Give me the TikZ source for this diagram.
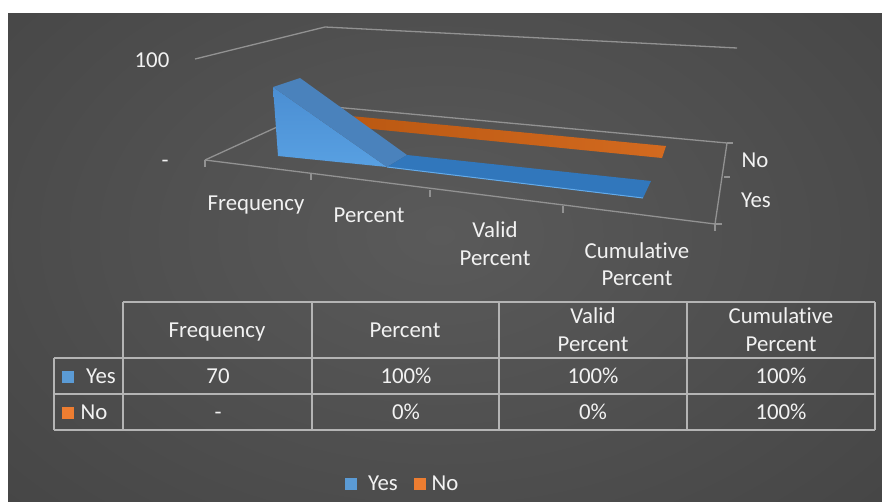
\documentclass[tikz,border=0pt]{standalone}
\usepackage{fontspec}
\setmainfont{Carlito}[Ligatures=NoCommon]
\usetikzlibrary{calc}

\definecolor{bgcenter}{HTML}{5A5A5A}
\definecolor{bgmid}{HTML}{474747}
\definecolor{bgdark}{HTML}{2C2C2C}
\definecolor{axisgray}{HTML}{929292}
\definecolor{tablegray}{HTML}{B4B4B4}
\definecolor{yesfront}{HTML}{58A0E2}
\definecolor{yesfronttop}{HTML}{4B8ED2}
\definecolor{yestop}{HTML}{4A82BC}
\definecolor{yesstrip}{HTML}{3177BC}
\definecolor{yesedge}{HTML}{63ABEB}
\definecolor{noleft}{HTML}{BA5812}
\definecolor{noright}{HTML}{D36A1F}
\definecolor{legblue}{HTML}{5B9BD5}
\definecolor{legorange}{HTML}{ED7D31}
\definecolor{labelwhite}{HTML}{F2F2F2}

\pgfdeclareradialshading{bgglow}{\pgfpoint{0bp}{0bp}}{%
  color(0bp)=(bgcenter); color(22bp)=(bgmid); color(50bp)=(bgdark)}

\tikzset{
  lbl/.style={text=labelwhite, font=\fontsize{22.8}{27}\selectfont,
    inner sep=0pt, anchor=base},
  axisline/.style={draw=axisgray, line width=1.3pt},
  tabline/.style={draw=tablegray, line width=1.4pt},
  swatch/.style={inner sep=0pt, minimum size=12pt, draw=none},
}

\begin{document}
\begin{tikzpicture}[x=1pt, y=-1pt]
  % page and chart area
  \useasboundingbox (0,0) rectangle (882,501);
  \fill[white] (0,0) rectangle (882,501);
  \begin{scope}
    \clip (8,13) rectangle (882,501);
    \fill[bgdark] (8,13) rectangle (882,501);
    \shade[shading=bgglow] (440,235) ellipse [x radius=640, y radius=430];
  \end{scope}

  % corners of the floor and walls
  \coordinate (fl) at (205,160);
  \coordinate (fr) at (715,224);
  \coordinate (bl) at (323,106);
  \coordinate (br) at (727,143);
  \coordinate (wl) at (195,59);
  \coordinate (wc) at (325,27);
  \coordinate (wr) at (737,48);

  % gridline at 100 on the side and back walls
  \draw[axisline] (wl) -- (wc) -- (wr);

  % floor outline
  \draw[axisline] (fl) -- (bl) -- (br);
  \draw[axisline] (fl) -- (fr) -- (br);

  % category ticks along the front edge
  \foreach \tx/\ty in {205/160, 311/173, 430/190, 563/206, 715/224}
    \draw[axisline] (\tx,\ty) -- (\tx,\ty+7);
  % series ticks on the depth axis
  \draw[axisline] (br) -- ++(6,0);
  \draw[axisline] (724,177) -- ++(6,0);
  \draw[axisline] (fr) -- ++(7,0);

  % "No" series: flat strip
  \shade[left color=noleft, right color=noright]
    (340,115) -- (666,146) -- (662,158) -- (352,127) -- cycle;

  % "Yes" series: front face of the slope
  \shade[top color=yesfronttop, bottom color=yesfront]
    (273,87) -- (278,156) -- (387,167) -- cycle;
  % top face of the slope
  \fill[yestop] (273,87) -- (300,78) -- (407,155) -- (387,167) -- cycle;
  % flat strip
  \fill[yesstrip] (387,167) -- (407,155) -- (651,181) -- (643,198) -- cycle;
  \draw[yesedge, line width=1pt] (387,167) -- (643,198);

  % value axis labels
  \node[lbl] (v100) at (152,67) {100};
  \node[lbl] (v0) at (165,167) {-};

  % category labels
  \node[lbl] (cFreq) at (256,210) {Frequency};
  \node[lbl] (cPerc) at (369,222) {Percent};
  \node[lbl] (cValid) at (495,237) {Valid};
  \node[lbl] (cValidB) at (495,265) {Percent};
  \node[lbl] (cCum) at (637,258) {Cumulative};
  \node[lbl] (cCumB) at (637,285) {Percent};

  % series labels
  \node[lbl] (sNo) at (755,167) {No};
  \node[lbl] (sYes) at (756,207) {Yes};

  % data table grid
  \draw[tabline] (123,302) -- (875,302);
  \foreach \hy in {358,394,430}
    \draw[tabline] (54,\hy) -- (875,\hy);
  \draw[tabline] (54,358) -- (54,430);
  \foreach \vx in {123,312,499,687,875}
    \draw[tabline] (\vx,302) -- (\vx,430);

  % table header
  \node[lbl] (hFreq) at (217,337) {Frequency};
  \node[lbl] (hPerc) at (405,337) {Percent};
  \node[lbl] (hValid) at (593,323) {Valid};
  \node[lbl] (hValidB) at (593,351) {Percent};
  \node[lbl] (hCum) at (781,323) {Cumulative};
  \node[lbl] (hCumB) at (781,351) {Percent};

  % row "Yes"
  \node[swatch, fill=legblue] (kYes) at (68,377) {};
  \node[lbl] (rYes) at (101,383) {Yes};
  \node[lbl] (y1) at (218,383) {70};
  \node[lbl] (y2) at (406,383) {100\%};
  \node[lbl] (y3) at (593,383) {100\%};
  \node[lbl] (y4) at (781,383) {100\%};

  % row "No"
  \node[swatch, fill=legorange] (kNo) at (68,413) {};
  \node[lbl] (rNo) at (94,419) {No};
  \node[lbl] (n1) at (218,419) {-};
  \node[lbl] (n2) at (406,419) {0\%};
  \node[lbl] (n3) at (593,419) {0\%};
  \node[lbl] (n4) at (781,419) {100\%};

  % legend
  \node[swatch, fill=legblue] (lgYes) at (351,484) {};
  \node[lbl] (lgYesT) at (383,490) {Yes};
  \node[swatch, fill=legorange] (lgNo) at (420,484) {};
  \node[lbl] (lgNoT) at (445,490) {No};
\end{tikzpicture}
\end{document}
